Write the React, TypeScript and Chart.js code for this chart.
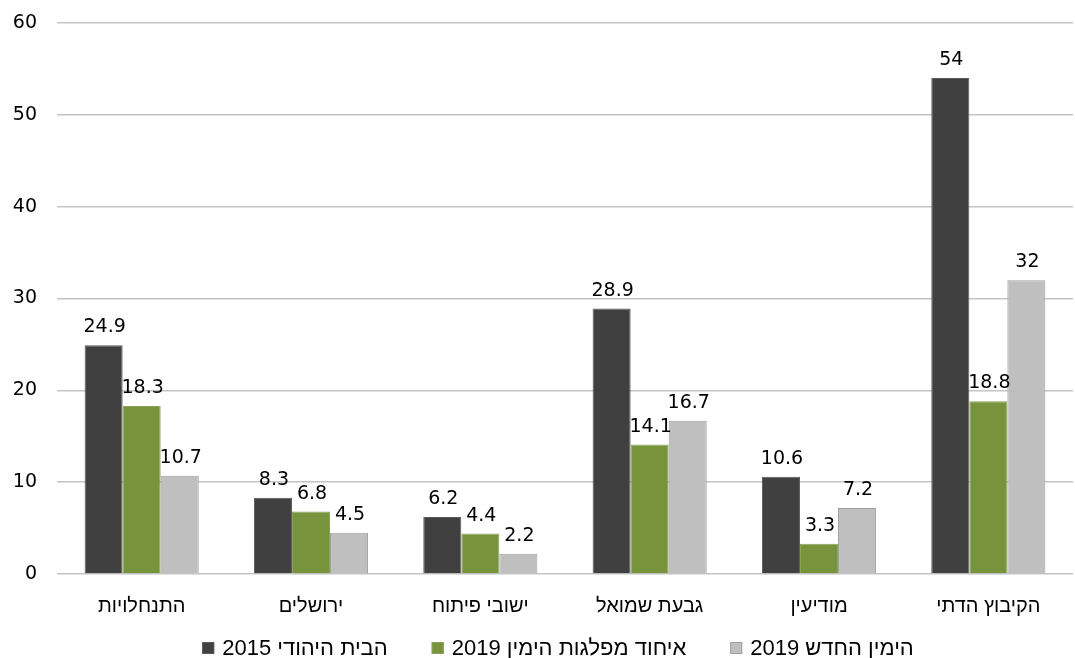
import React, { useEffect, useRef } from "react";
import { Chart, registerables } from "chart.js";

Chart.register(...registerables);

const categories = ["התנחלויות", "ירושלים", "ישובי פיתוח", "גבעת שמואל", "מודיעין", "הקיבוץ הדתי"];
const series1Label = "2015 הבית היהודי";
const series2Label = "2019 איחוד מפלגות הימין";
const series3Label = "2019 הימין החדש";
const series1 = [24.9, 8.3, 6.2, 28.9, 10.6, 54];
const series2 = [18.3, 6.8, 4.4, 14.1, 3.3, 18.8];
const series3 = [10.7, 4.5, 2.2, 16.7, 7.2, 32];
const yTicks = [0, 10, 20, 30, 40, 50, 60];

const NUM_FONT = "'DejaVu Sans', sans-serif";
const HEB_FONT = "'Liberation Sans', Arial, sans-serif";

const dataLabels = {
  id: "dataLabels",
  afterDatasetsDraw(chart: any) {
    const ctx = chart.ctx;
    ctx.save();
    ctx.font = `19px ${NUM_FONT}`;
    ctx.fillStyle = "#000000";
    ctx.textAlign = "center";
    ctx.textBaseline = "alphabetic";
    chart.data.datasets.forEach((ds: any, i: number) => {
      const meta = chart.getDatasetMeta(i);
      meta.data.forEach((el: any, j: number) => {
        ctx.fillText(String(ds.data[j]), el.x + 1, el.y - 13);
      });
    });
    ctx.restore();
  },
};

const bottomLegend = {
  id: "bottomLegend",
  afterDraw(chart: any) {
    const ctx = chart.ctx;
    const box = 12;
    const gapBoxText = 8;
    const itemGap = 44;
    const cy = 648;
    ctx.save();
    ctx.font = `22px ${HEB_FONT}`;
    const items = chart.data.datasets.map((ds: any) => {
      const w = ctx.measureText(ds.label).width;
      return { ds, w, total: box + gapBoxText + w };
    });
    const totalWidth = items.reduce((s: number, it: any) => s + it.total, 0) + itemGap * (items.length - 1);
    const center = (chart.chartArea.left + chart.chartArea.right) / 2 - 7;
    let x = center - totalWidth / 2;
    ctx.textBaseline = "middle";
    ctx.textAlign = "left";
    items.forEach((it: any) => {
      ctx.fillStyle = it.ds.backgroundColor;
      ctx.fillRect(x, cy - box / 2, box, box);
      ctx.strokeStyle = it.ds.borderColor;
      ctx.lineWidth = 1;
      ctx.strokeRect(x + 0.5, cy - box / 2 + 0.5, box - 1, box - 1);
      ctx.fillStyle = "#000000";
      ctx.fillText(it.ds.label, x + box + gapBoxText, cy + 1);
      x += it.total + itemGap;
    });
    ctx.restore();
  },
};

export default function App() {
  const ref = useRef<HTMLCanvasElement>(null);
  useEffect(() => {
    document.body.style.margin = "0";
    if (!ref.current) return;
    const chart = new Chart(ref.current, {
      type: "bar",
      data: {
        labels: categories,
        datasets: [
          { label: series1Label, data: series1, backgroundColor: "#404040", borderColor: "#595959", borderWidth: 1 },
          { label: series2Label, data: series2, backgroundColor: "#77933C", borderColor: "#8aa35a", borderWidth: 1 },
          { label: series3Label, data: series3, backgroundColor: "#BFBFBF", borderColor: "#a0a0a0", borderWidth: 1 },
        ],
      },
      options: {
        responsive: false,
        animation: false,
        layout: { padding: { top: 23, right: 2, left: 0, bottom: 38 } },
        datasets: { bar: { categoryPercentage: 0.674, barPercentage: 1 } },
        scales: {
          x: {
            grid: { display: false },
            border: { display: false },
            ticks: { font: { family: HEB_FONT, size: 20 }, color: "#000", padding: 12 },
            afterFit(scale: any) { scale.height = 46; },
          },
          y: {
            min: 0,
            max: 60,
            afterBuildTicks(scale: any) { scale.ticks = yTicks.map((v) => ({ value: v })); },
            grid: { color: "#c4c4c4", lineWidth: 1.5, drawTicks: false },
            border: { display: false },
            ticks: { font: { family: NUM_FONT, size: 19, lineHeight: 0.05 }, color: "#000", padding: 20 },
            afterFit(scale: any) { scale.width = 57; },
          },
        },
        plugins: {
          legend: { display: false },
          tooltip: { enabled: false },
        },
      },
      plugins: [dataLabels, bottomLegend],
    });
    return () => chart.destroy();
  }, []);
  return <canvas ref={ref} width={1075} height={658} style={{ display: "block" }} />;
}
